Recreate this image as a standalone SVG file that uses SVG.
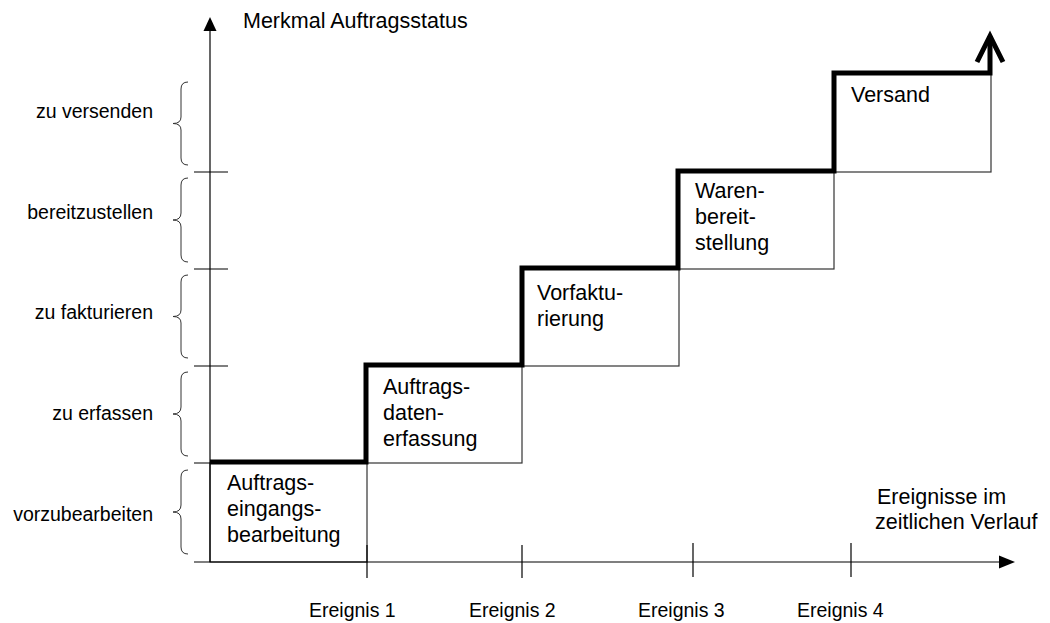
<svg xmlns="http://www.w3.org/2000/svg" width="1050" height="623" viewBox="0 0 1050 623">
<style>
  text { font-family: "Liberation Sans", Arial, sans-serif; fill: #000; }
  .big { font-size: 21.5px; }
  .small { font-size: 19.5px; }
  .lab { font-size: 19.5px; text-anchor: end; }
  .axis { stroke: #000; stroke-width: 1.2; fill: none; }
  .box { stroke: #333; stroke-width: 1.2; fill: #fff; }
  .brace { stroke: #333; stroke-width: 1; fill: none; }
  .thick { stroke: #000; stroke-width: 5; fill: none; stroke-linejoin: miter; }
</style>
<rect width="1050" height="623" fill="#fff"/>

<g id="boxes">
  <g id="box1">
    <rect class="box" x="210" y="463" width="157" height="99"/>
    <text class="big" x="227" y="490">Auftrags-</text>
    <text class="big" x="227" y="516">eingangs-</text>
    <text class="big" x="227" y="542">bearbeitung</text>
  </g>
  <g id="box2">
    <rect class="box" x="367" y="366" width="155" height="97"/>
    <text class="big" x="383" y="394">Auftrags-</text>
    <text class="big" x="383" y="420">daten-</text>
    <text class="big" x="383" y="446">erfassung</text>
  </g>
  <g id="box3">
    <rect class="box" x="522" y="269" width="157" height="97"/>
    <text class="big" x="537" y="300">Vorfaktu-</text>
    <text class="big" x="537" y="326">rierung</text>
  </g>
  <g id="box4">
    <rect class="box" x="679" y="172" width="155" height="97"/>
    <text class="big" x="695" y="198">Waren-</text>
    <text class="big" x="695" y="224">bereit-</text>
    <text class="big" x="695" y="250">stellung</text>
  </g>
  <g id="box5">
    <rect class="box" x="834" y="73" width="157" height="99"/>
    <text class="big" x="851" y="102">Versand</text>
  </g>
</g>

<g id="axes">
  <line class="axis" x1="210" y1="562" x2="210" y2="28"/>
  <polygon points="210,17 203.5,31 216.5,31" fill="#000"/>
  <line class="axis" x1="194" y1="562" x2="1002" y2="562"/>
  <polygon points="1015,562 999,555.5 999,568.5" fill="#000"/>
  <line class="axis" x1="194" y1="172" x2="228" y2="172"/>
  <line class="axis" x1="194" y1="269" x2="228" y2="269"/>
  <line class="axis" x1="194" y1="366" x2="228" y2="366"/>
  <line class="axis" x1="194" y1="463" x2="228" y2="463"/>
  <line class="axis" x1="367" y1="545" x2="367" y2="578"/>
  <line class="axis" x1="522" y1="545" x2="522" y2="578"/>
  <line class="axis" x1="693" y1="543" x2="693" y2="577"/>
  <line class="axis" x1="851" y1="543" x2="851" y2="577"/>
  <text class="big" x="243" y="28">Merkmal Auftragsstatus</text>
  <text class="big" x="877" y="504">Ereignisse im</text>
  <text class="big" x="875" y="529">zeitlichen Verlauf</text>
  <text class="small" x="309" y="617">Ereignis 1</text>
  <text class="small" x="469" y="617">Ereignis 2</text>
  <text class="small" x="638" y="617">Ereignis 3</text>
  <text class="small" x="797" y="617">Ereignis 4</text>
</g>

<g id="categories">
  <path class="brace" d="M188,82 Q181,82 181,89 L181,117 Q181,123.5 173,123.5 Q181,123.5 181,130 L181,158 Q181,165 188,165"/>
  <path class="brace" d="M188,178 Q181,178 181,185 L181,213 Q181,220 173,220 Q181,220 181,227 L181,255 Q181,262 188,262"/>
  <path class="brace" d="M188,275 Q181,275 181,282 L181,310 Q181,316.5 173,316.5 Q181,316.5 181,323 L181,351 Q181,358 188,358"/>
  <path class="brace" d="M188,372 Q181,372 181,379 L181,407 Q181,414 173,414 Q181,414 181,421 L181,449 Q181,456 188,456"/>
  <path class="brace" d="M188,470 Q181,470 181,477 L181,505 Q181,512 173,512 Q181,512 181,519 L181,547 Q181,554 188,554"/>
  <text class="lab" x="153" y="118">zu versenden</text>
  <text class="lab" x="153" y="219">bereitzustellen</text>
  <text class="lab" x="153" y="319">zu fakturieren</text>
  <text class="lab" x="153" y="420">zu erfassen</text>
  <text class="lab" x="153" y="521">vorzubearbeiten</text>
</g>

<g id="connectors">
  <polyline class="thick" points="210,462 366,462 366,365 522,365 522,268 678,268 678,171 834,171 834,73 990,73 990,36"/>
  <polyline class="thick" points="977,62 990,36 1003,62"/>
</g>
</svg>
